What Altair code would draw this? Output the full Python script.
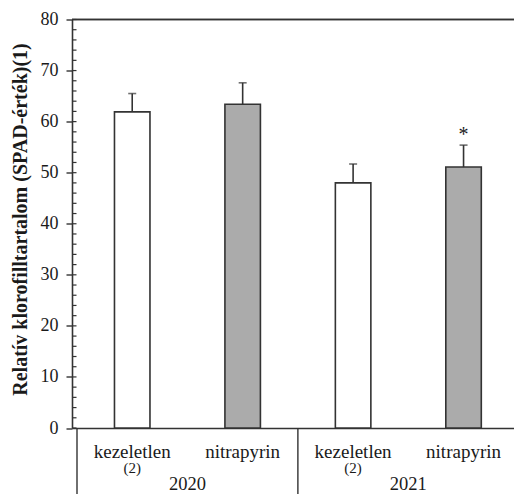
import altair as alt
import pandas as pd

# ---- data ----
years = ["2020", "2020", "2021", "2021"]
treatments = ["kezeletlen", "nitrapyrin", "kezeletlen", "nitrapyrin"]
notes = ["(2)", "", "(2)", ""]
positions = [1, 2, 3, 4]
means = [61.9, 63.4, 48.0, 51.1]
errors = [3.6, 4.2, 3.7, 4.3]
signif = ["", "", "", "*"]

year_labels = ["2020", "2021"]
year_positions = [1.5, 3.5]
separators = [0.5, 2.5]

y_ticks = list(range(0, 81, 10))
y_minor = list(range(0, 81, 2))

Y_TITLE = "Relatív klorofilltartalom (SPAD-érték)(1)"
FONT = "Liberation Serif"
LINE = "#333333"
TEXT = "#1a1a1a"
W, H = 442, 408.5

df = pd.DataFrame({
    "year": years, "treatment": treatments, "note": notes,
    "pos": positions, "mean": means, "err": errors, "sig": signif,
})
df["top"] = df["mean"] + df["err"]

df_years = pd.DataFrame({"year": year_labels, "pos": year_positions})
df_sep = pd.DataFrame({"pos": separators})
df_minor = pd.DataFrame({"v": y_minor})

xscale = alt.Scale(domain=[0.5, 4.4115], nice=False, zero=False)
yscale = alt.Scale(domain=[0, 80], nice=False)
x_enc = alt.X("pos:Q", scale=xscale, title=None,
              axis=alt.Axis(labels=False, ticks=False, grid=False, domain=True))

base = alt.Chart(df)

bars = base.mark_bar(size=35.5, stroke=LINE, strokeWidth=1.6).encode(
    x=x_enc,
    y=alt.Y("mean:Q", scale=yscale, title=Y_TITLE,
            axis=alt.Axis(values=y_ticks)),
    fill=alt.Fill("treatment:N", legend=None,
                  scale=alt.Scale(domain=["kezeletlen", "nitrapyrin"],
                                  range=["#ffffff", "#ababab"])),
)

err_rule = base.mark_rule(color=LINE, strokeWidth=1.6).encode(
    x=alt.X("pos:Q", scale=xscale),
    y=alt.Y("mean:Q", scale=yscale, title=Y_TITLE),
    y2="top:Q",
)

err_cap = base.mark_tick(color=LINE, orient="horizontal", size=8, thickness=1.6).encode(
    x=alt.X("pos:Q", scale=xscale),
    y=alt.Y("top:Q", scale=yscale, title=Y_TITLE),
)

stars = base.mark_text(font=FONT, fontSize=20, color=TEXT, baseline="alphabetic", dy=-4).encode(
    x=alt.X("pos:Q", scale=xscale),
    y=alt.Y("top:Q", scale=yscale, title=Y_TITLE),
    text="sig:N",
)

minor = alt.Chart(df_minor).mark_rule(color=LINE, strokeWidth=1.2).encode(
    x=alt.value(0), x2=alt.value(4.5),
    y=alt.Y("v:Q", scale=yscale, title=Y_TITLE),
)

top_line = alt.Chart(df_sep).mark_rule(color=LINE, strokeWidth=1.6).encode(
    x=alt.value(0), x2=alt.value(W), y=alt.value(0),
)

sep_lines = alt.Chart(df_sep).mark_rule(color=LINE, strokeWidth=1.4).encode(
    x=alt.X("pos:Q", scale=xscale),
    y=alt.value(H), y2=alt.value(H + 66),
)

cat_labels = base.mark_text(font=FONT, fontSize=19, color=TEXT, baseline="middle").encode(
    x=alt.X("pos:Q", scale=xscale),
    y=alt.value(432),
    text="treatment:N",
)

note_labels = base.mark_text(font=FONT, fontSize=15, color=TEXT, baseline="middle").encode(
    x=alt.X("pos:Q", scale=xscale),
    y=alt.value(448.5),
    text="note:N",
)

year_text = alt.Chart(df_years).mark_text(font=FONT, fontSize=18.5, color=TEXT, baseline="middle").encode(
    x=alt.X("pos:Q", scale=xscale),
    y=alt.value(464.5),
    text="year:N",
)

chart = alt.layer(
    bars, err_rule, err_cap, stars, minor, top_line, sep_lines,
    cat_labels, note_labels, year_text,
).properties(
    width=W, height=H,
    autosize=alt.AutoSizeParams(type="none"),
    padding={"left": 72, "top": 19.5, "right": 0, "bottom": 66},
).configure_view(
    stroke=None,
).configure_axisY(
    domainColor=LINE, domainWidth=1.6,
    tickColor=LINE, tickWidth=1.4, tickSize=6,
    labelFont=FONT, labelFontSize=18, labelColor=TEXT, labelPadding=8,
    titleFont=FONT, titleFontSize=20, titleFontWeight="bold", titleColor=TEXT,
    titleX=-52, titleY=199.5, titleBaseline="middle", titleAngle=270,
    grid=False,
).configure_axisX(
    domainColor=LINE, domainWidth=1.6, grid=False,
)

chart.save("out.html", embed_options={"renderer": "svg", "actions": False})
